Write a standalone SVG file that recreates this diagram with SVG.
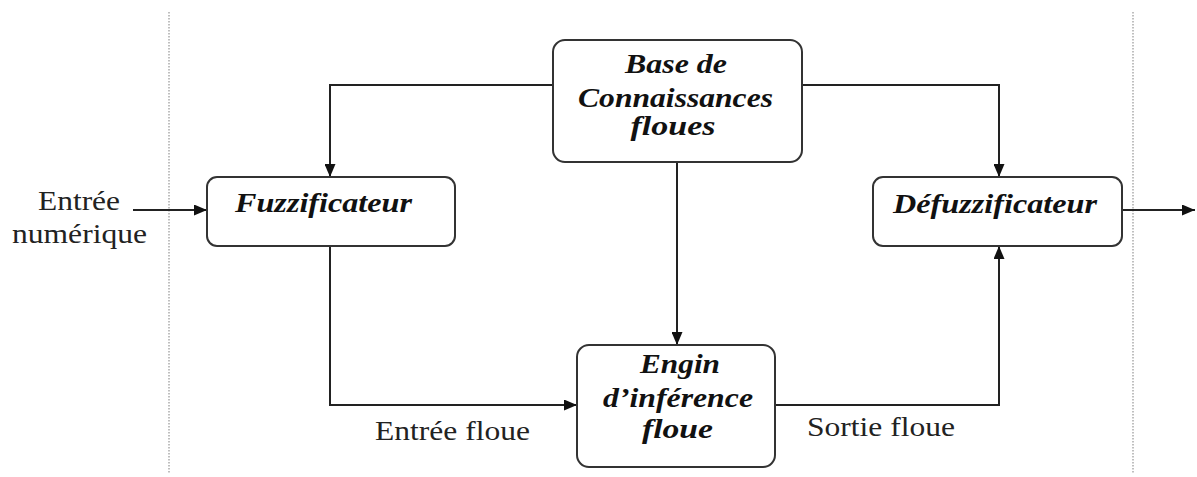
<svg xmlns="http://www.w3.org/2000/svg" width="1197" height="477" viewBox="0 0 1197 477">
<defs>
<marker id="ah" markerWidth="13" markerHeight="11" refX="13" refY="5.5" orient="auto" markerUnits="userSpaceOnUse">
<path d="M0,0 L13,5.5 L0,11 Z" fill="#111"/>
</marker>
<style>
.box{fill:#fff;stroke:#333;stroke-width:2}
.lbl{font-family:"Times New Roman","Liberation Serif",serif;font-size:27px;font-weight:bold;font-style:italic;fill:#111;text-anchor:middle}
.txt{font-family:"Times New Roman","Liberation Serif",serif;font-size:27px;fill:#222;text-anchor:middle}
.con{fill:none;stroke:#222;stroke-width:2}
.sep{stroke:#aaa;stroke-width:1.5;stroke-dasharray:1.5,1.5}
</style>
</defs>
<rect width="1197" height="477" fill="#fff"/>
<g id="separators">
<line class="sep" x1="169" y1="12" x2="169" y2="473"/>
<line class="sep" x1="1133" y1="12" x2="1133" y2="473"/>
</g>
<g id="connectors">
<line class="con" x1="133" y1="210" x2="207" y2="210" marker-end="url(#ah)"/>
<polyline class="con" points="553,85 330,85 330,177" marker-end="url(#ah)"/>
<polyline class="con" points="802,85 999,85 999,177" marker-end="url(#ah)"/>
<line class="con" x1="677" y1="162" x2="677" y2="345" marker-end="url(#ah)"/>
<polyline class="con" points="330,246 330,405 577,405" marker-end="url(#ah)"/>
<polyline class="con" points="775,405 999,405 999,246" marker-end="url(#ah)"/>
<line class="con" x1="1122" y1="210" x2="1195" y2="210" marker-end="url(#ah)"/>
<text class="txt" x="452.5" y="440" textLength="155" lengthAdjust="spacingAndGlyphs">Entrée floue</text>
<text class="txt" x="881" y="436" textLength="148" lengthAdjust="spacingAndGlyphs">Sortie floue</text>
</g>
<g id="input">
<text class="txt" x="79" y="210" textLength="82" lengthAdjust="spacingAndGlyphs">Entrée</text>
<text class="txt" x="79.5" y="243" textLength="135" lengthAdjust="spacingAndGlyphs">numérique</text>
</g>
<g id="base">
<rect class="box" x="553" y="40" width="249" height="122" rx="12"/>
<text class="lbl" x="676" y="73" textLength="102" lengthAdjust="spacingAndGlyphs">Base de</text>
<text class="lbl" x="675.5" y="107" textLength="195" lengthAdjust="spacingAndGlyphs">Connaissances</text>
<text class="lbl" x="673" y="135" textLength="85" lengthAdjust="spacingAndGlyphs">floues</text>
</g>
<g id="fuzzificateur">
<rect class="box" x="207" y="177" width="248" height="69" rx="10"/>
<text class="lbl" x="323.5" y="212" textLength="177" lengthAdjust="spacingAndGlyphs">Fuzzificateur</text>
</g>
<g id="defuzzificateur">
<rect class="box" x="873" y="177" width="249" height="69" rx="10"/>
<text class="lbl" x="995" y="213" textLength="204" lengthAdjust="spacingAndGlyphs">Défuzzificateur</text>
</g>
<g id="engin">
<rect class="box" x="577" y="345" width="198" height="122" rx="12"/>
<text class="lbl" x="680" y="373" textLength="80" lengthAdjust="spacingAndGlyphs">Engin</text>
<text class="lbl" x="678" y="407" textLength="150" lengthAdjust="spacingAndGlyphs">d’inférence</text>
<text class="lbl" x="677.5" y="438" textLength="71" lengthAdjust="spacingAndGlyphs">floue</text>
</g>
</svg>
